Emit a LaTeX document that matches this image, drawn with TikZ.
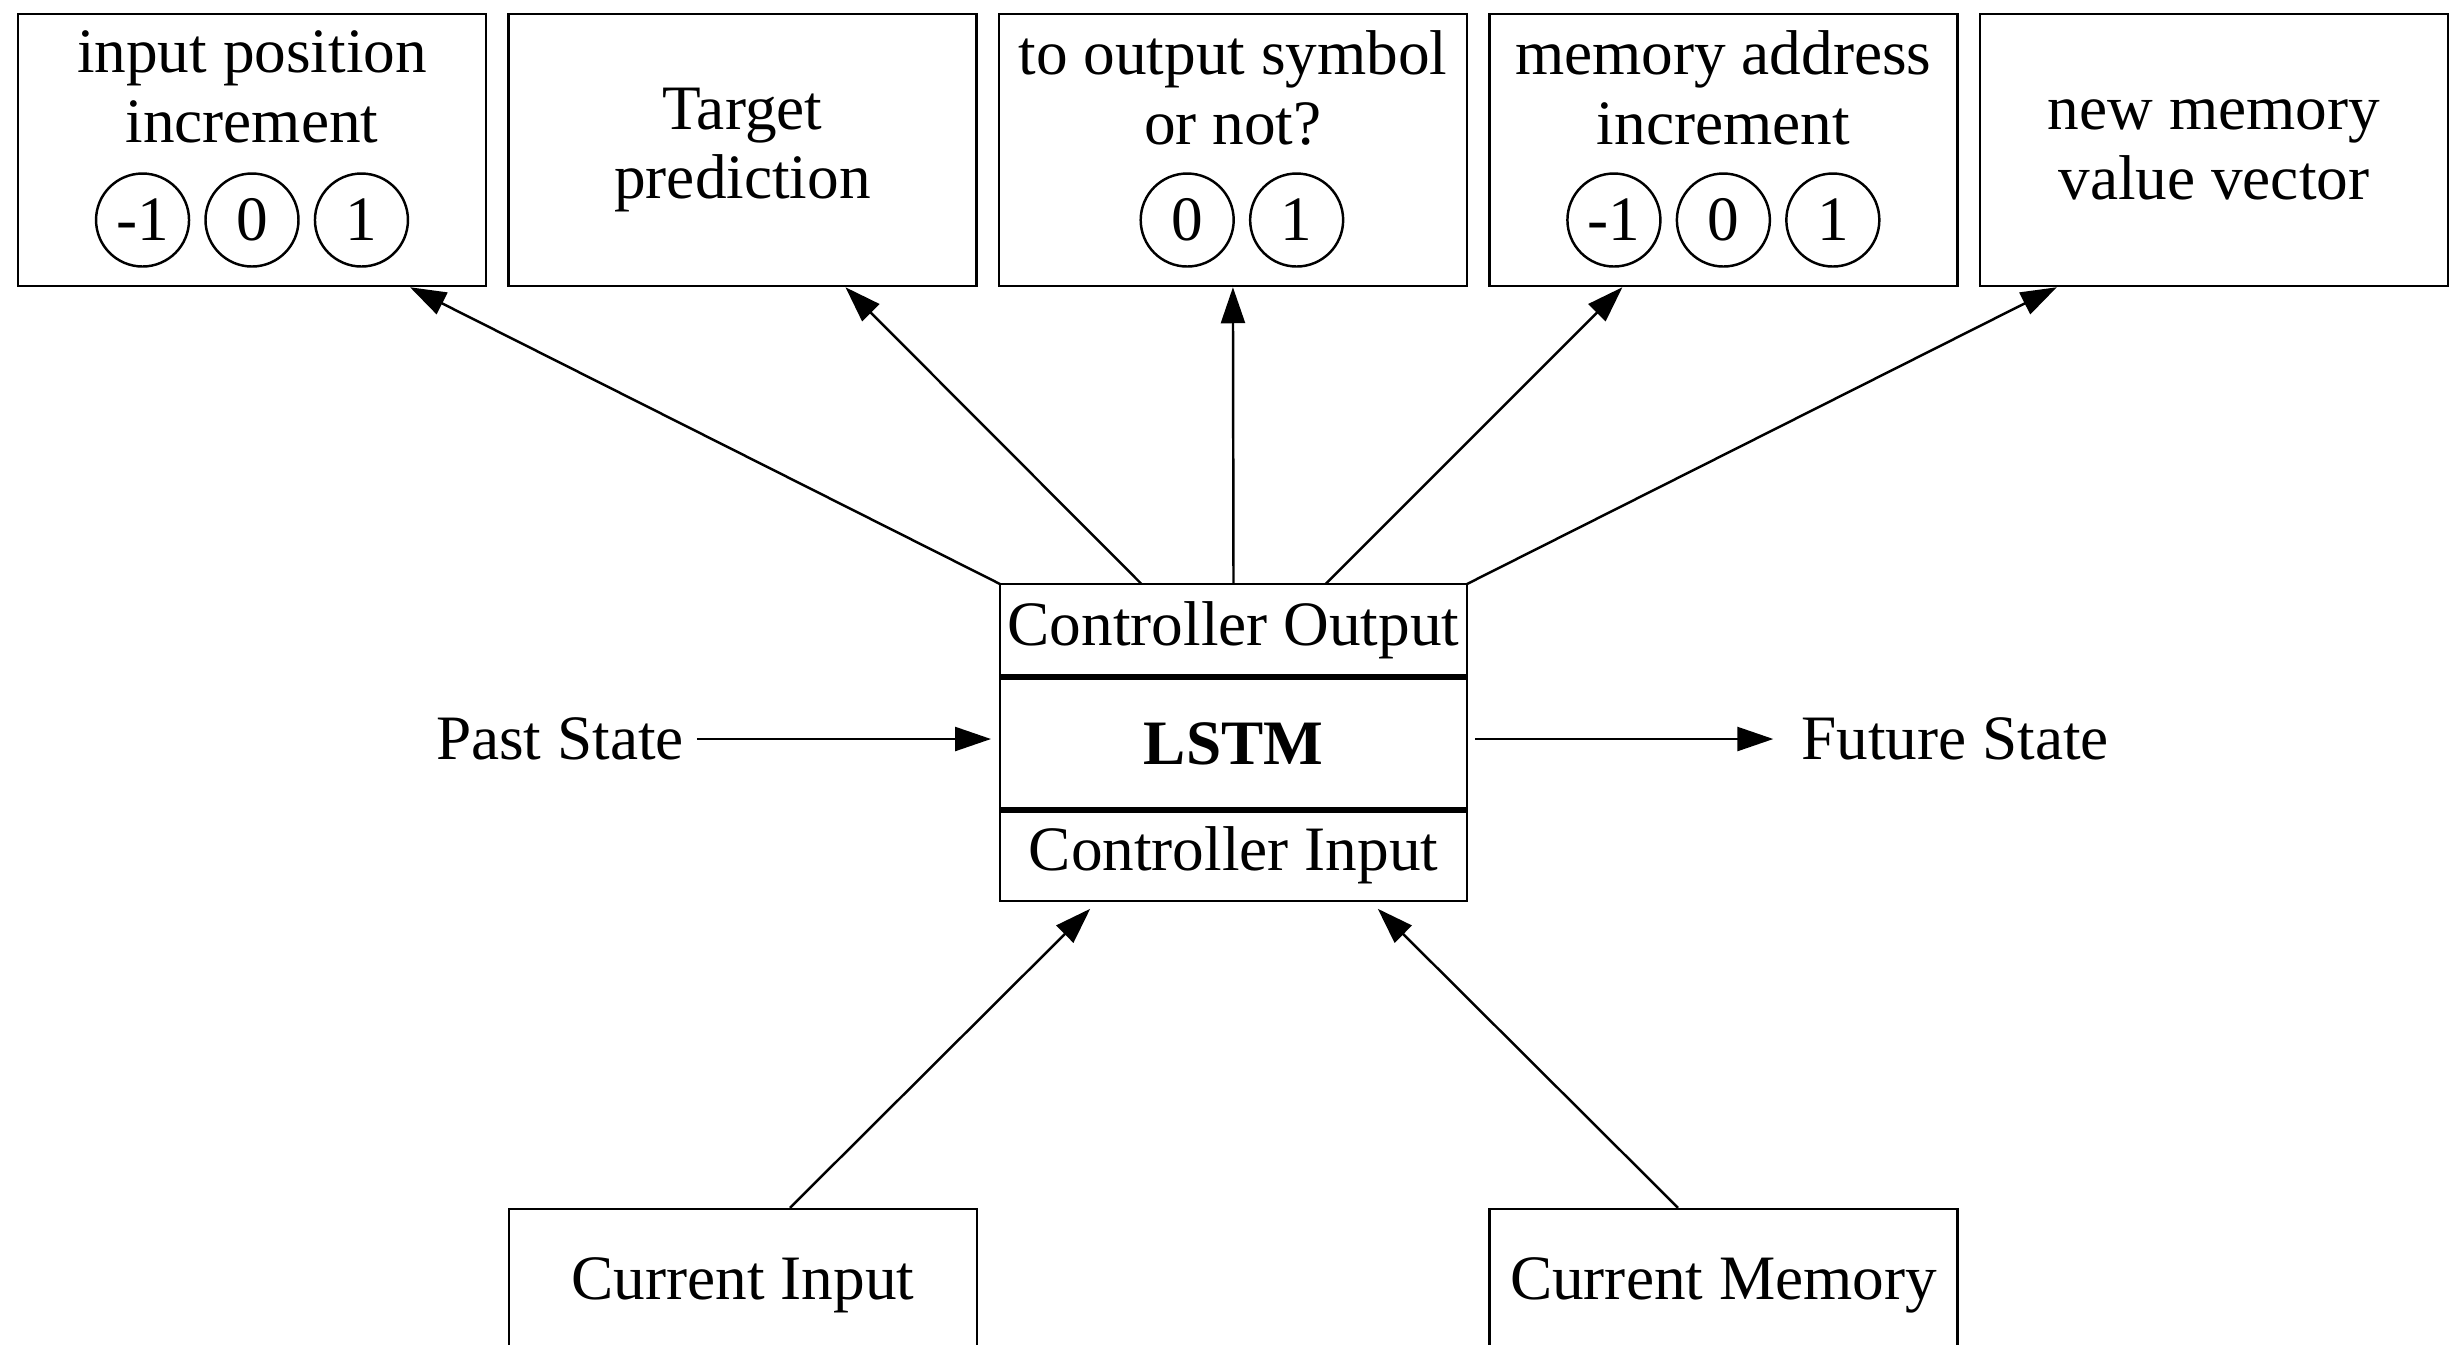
\documentclass[tikz,border=0pt]{standalone}
\usepackage{fontspec}
\setmainfont{Liberation Serif}
\usetikzlibrary{arrows.meta, positioning}

\begin{document}
\begin{tikzpicture}[
    >={Triangle[length=0.36cm, width=0.24cm]},
    line width=0.7pt,
    every node/.style={font=\fontsize{18}{19.8}\selectfont, align=center},
    outbox/.style={rectangle, draw, minimum width=4.68cm, minimum height=2.72cm},
    digit/.style={circle, draw, minimum size=0.93cm, inner sep=0pt},
    part/.style={rectangle, draw, minimum width=4.67cm, inner xsep=0.05cm, outer sep=0pt},
    inbox/.style={rectangle, draw, minimum width=4.68cm, minimum height=1.52cm},
    divider/.style={line width=1.5pt}
]
\useasboundingbox (0,0) rectangle (24.62,-13.44);

% --- Output boxes ---
\node[outbox] (ipos) at (2.52,-1.50) {};
\node[outbox, right=0.20cm of ipos] (target) {Target\\prediction};
\node[outbox, right=0.20cm of target] (emit) {};
\node[outbox, right=0.20cm of emit] (maddr) {};
\node[outbox, right=0.20cm of maddr] (mval) {new memory\\value vector};

\node[below=0.05cm of ipos.north] (ipos-txt) {input position\\increment};
\node[below=0.05cm of emit.north] (emit-txt) {to output symbol\\or not?};
\node[below=0.05cm of maddr.north] (maddr-txt) {memory address\\increment};

% --- Choice circles ---
\node[digit] (ipos-0) at ([yshift=-0.70cm]ipos.center) {0};
\node[digit, left=0.14cm of ipos-0] (ipos-m) {-1};
\node[digit, right=0.14cm of ipos-0] (ipos-p) {1};

\node[digit] (maddr-0) at ([yshift=-0.70cm]maddr.center) {0};
\node[digit, left=0.14cm of maddr-0] (maddr-m) {-1};
\node[digit, right=0.14cm of maddr-0] (maddr-p) {1};

\coordinate (emit-c) at ([xshift=0.09cm, yshift=-0.70cm]emit.center);
\node[digit, left=0.07cm of emit-c] (emit-0) {0};
\node[digit, right=0.07cm of emit-c] (emit-1) {1};

% --- Controller ---
\node[part, minimum height=0.93cm] (cout) at (12.335,-6.305) {Controller Output};
\node[part, minimum height=1.33cm, below=0pt of cout, font=\fontsize{18}{19.8}\selectfont\bfseries] (lstm) {LSTM};
\node[part, minimum height=0.91cm, below=0pt of lstm] (cin) {Controller Input};
\draw[divider] (lstm.north west) -- (lstm.north east);
\draw[divider] (lstm.south west) -- (lstm.south east);

% --- Inputs and state ---
\node[inbox] (curin) at (7.43,-12.85) {Current Input};
\node[inbox] (curmem) at (17.235,-12.85) {Current Memory};
\node (past) at (5.60,-7.39) {Past State};
\node (future) at (19.55,-7.39) {Future State};

% --- Edges ---
\draw[->] (cout.north west) -- ([xshift=1.58cm]ipos.south);
\draw[->] ([xshift=-0.92cm]cout.north) -- ([xshift=1.03cm]target.south);
\draw[->] (cout.north) -- (emit.south);
\draw[->] ([xshift=0.92cm]cout.north) -- ([xshift=-1.01cm]maddr.south);
\draw[->] (cout.north east) -- ([xshift=-1.57cm]mval.south);

\draw[->, shorten >=0.11cm] ([xshift=0.47cm]curin.north) -- ([xshift=-1.355cm]cin.south);
\draw[->, shorten >=0.11cm] ([xshift=-0.455cm]curmem.north) -- ([xshift=1.365cm]cin.south);

\draw[->, shorten >=0.09cm] (past.east) -- (past.east -| lstm.west);
\draw[->, shorten <=0.08cm, shorten >=0.15cm] (future.west -| lstm.east) -- (future.west);

\end{tikzpicture}
\end{document}
